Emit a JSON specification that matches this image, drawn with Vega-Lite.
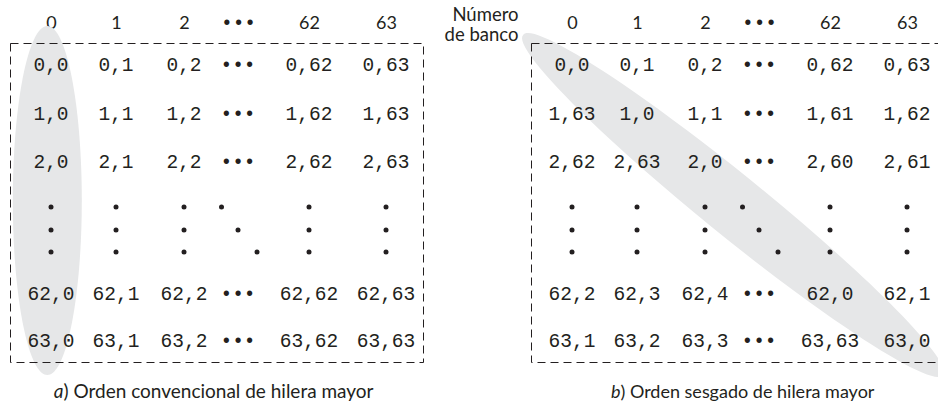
{
  "$schema": "https://vega.github.io/schema/vega-lite/v6.json",
  "width": 938,
  "height": 405,
  "autosize": {"type": "none"},
  "padding": 0,
  "background": "white",
  "config": {"view": {"stroke": null}},
  "datasets": {
    "celdas_a": [
      {"hilera": 0, "banco": 0, "elemento": "0,0"}, {"hilera": 0, "banco": 1, "elemento": "0,1"}, {"hilera": 0, "banco": 2, "elemento": "0,2"}, {"hilera": 0, "banco": 32, "elemento": "•••"}, {"hilera": 0, "banco": 62, "elemento": "0,62"}, {"hilera": 0, "banco": 63, "elemento": "0,63"},
      {"hilera": 1, "banco": 0, "elemento": "1,0"}, {"hilera": 1, "banco": 1, "elemento": "1,1"}, {"hilera": 1, "banco": 2, "elemento": "1,2"}, {"hilera": 1, "banco": 32, "elemento": "•••"}, {"hilera": 1, "banco": 62, "elemento": "1,62"}, {"hilera": 1, "banco": 63, "elemento": "1,63"},
      {"hilera": 2, "banco": 0, "elemento": "2,0"}, {"hilera": 2, "banco": 1, "elemento": "2,1"}, {"hilera": 2, "banco": 2, "elemento": "2,2"}, {"hilera": 2, "banco": 32, "elemento": "•••"}, {"hilera": 2, "banco": 62, "elemento": "2,62"}, {"hilera": 2, "banco": 63, "elemento": "2,63"},
      {"hilera": 62, "banco": 0, "elemento": "62,0"}, {"hilera": 62, "banco": 1, "elemento": "62,1"}, {"hilera": 62, "banco": 2, "elemento": "62,2"}, {"hilera": 62, "banco": 32, "elemento": "•••"}, {"hilera": 62, "banco": 62, "elemento": "62,62"}, {"hilera": 62, "banco": 63, "elemento": "62,63"},
      {"hilera": 63, "banco": 0, "elemento": "63,0"}, {"hilera": 63, "banco": 1, "elemento": "63,1"}, {"hilera": 63, "banco": 2, "elemento": "63,2"}, {"hilera": 63, "banco": 32, "elemento": "•••"}, {"hilera": 63, "banco": 62, "elemento": "63,62"}, {"hilera": 63, "banco": 63, "elemento": "63,63"}
    ],
    "celdas_b": [
      {"hilera": 0, "banco": 0, "elemento": "0,0"}, {"hilera": 0, "banco": 1, "elemento": "0,1"}, {"hilera": 0, "banco": 2, "elemento": "0,2"}, {"hilera": 0, "banco": 32, "elemento": "•••"}, {"hilera": 0, "banco": 62, "elemento": "0,62"}, {"hilera": 0, "banco": 63, "elemento": "0,63"},
      {"hilera": 1, "banco": 0, "elemento": "1,63"}, {"hilera": 1, "banco": 1, "elemento": "1,0"}, {"hilera": 1, "banco": 2, "elemento": "1,1"}, {"hilera": 1, "banco": 32, "elemento": "•••"}, {"hilera": 1, "banco": 62, "elemento": "1,61"}, {"hilera": 1, "banco": 63, "elemento": "1,62"},
      {"hilera": 2, "banco": 0, "elemento": "2,62"}, {"hilera": 2, "banco": 1, "elemento": "2,63"}, {"hilera": 2, "banco": 2, "elemento": "2,0"}, {"hilera": 2, "banco": 32, "elemento": "•••"}, {"hilera": 2, "banco": 62, "elemento": "2,60"}, {"hilera": 2, "banco": 63, "elemento": "2,61"},
      {"hilera": 62, "banco": 0, "elemento": "62,2"}, {"hilera": 62, "banco": 1, "elemento": "62,3"}, {"hilera": 62, "banco": 2, "elemento": "62,4"}, {"hilera": 62, "banco": 32, "elemento": "•••"}, {"hilera": 62, "banco": 62, "elemento": "62,0"}, {"hilera": 62, "banco": 63, "elemento": "62,1"},
      {"hilera": 63, "banco": 0, "elemento": "63,1"}, {"hilera": 63, "banco": 1, "elemento": "63,2"}, {"hilera": 63, "banco": 2, "elemento": "63,3"}, {"hilera": 63, "banco": 32, "elemento": "•••"}, {"hilera": 63, "banco": 62, "elemento": "63,63"}, {"hilera": 63, "banco": 63, "elemento": "63,0"}
    ],
    "puntos": [
      {"hilera": 3, "banco": 0}, {"hilera": 32, "banco": 0}, {"hilera": 61, "banco": 0},
      {"hilera": 3, "banco": 1}, {"hilera": 32, "banco": 1}, {"hilera": 61, "banco": 1},
      {"hilera": 3, "banco": 2}, {"hilera": 32, "banco": 2}, {"hilera": 61, "banco": 2},
      {"hilera": 3, "banco": 62}, {"hilera": 32, "banco": 62}, {"hilera": 61, "banco": 62},
      {"hilera": 3, "banco": 63}, {"hilera": 32, "banco": 63}, {"hilera": 61, "banco": 63},
      {"hilera": 3, "banco": 3}, {"hilera": 32, "banco": 32}, {"hilera": 61, "banco": 61}
    ],
    "marco": [{"banco": -0.5, "banco_fin": 63.5, "hilera": -0.5, "hilera_fin": 63.5}],
    "elipse": [{"banco": 0, "hilera": 0}],
    "leyenda_a": [{"banco": -0.5, "hilera": 63.5, "letra": "a", "texto": ") Orden convencional de hilera mayor"}],
    "leyenda_b": [{"banco": -0.5, "hilera": 63.5, "letra": "b", "texto": ") Orden sesgado de hilera mayor"}]
  },
  "resolve": {"scale": {"x": "independent"}, "axis": {"x": "independent"}},
  "layer": [
    {
      "encoding": {
        "x": {"field": "banco", "type": "quantitative",
          "scale": {"type": "linear", "domain": [-0.5, 0, 1, 2, 3, 32, 61, 62, 63, 63.5], "range": [10.5, 51, 116, 184, 221.5, 238, 257, 309, 386, 423.5], "nice": false, "zero": false},
          "axis": {"orient": "top", "offset": -43, "values": [0, 1, 2, 32, 62, 63], "labelExpr": "datum.value == 32 ? '•••' : datum.label", "ticks": false, "tickSize": 0, "domain": false, "grid": false, "title": null,
            "labelFont": {"condition": {"test": "datum.value == 32", "value": "Liberation Mono"}, "value": "Lato"},
            "labelFontSize": {"condition": {"test": "datum.value == 32", "value": 19.5}, "value": 18},
            "labelPadding": 11, "labelBaseline": "bottom", "labelColor": "#231f20", "labelAngle": 0, "labelOverlap": false, "labelFlush": false}},
        "y": {"field": "hilera", "type": "quantitative",
          "scale": {"type": "linear", "domain": [-0.5, 0, 1, 2, 3, 32, 61, 62, 63, 63.5], "range": [43.5, 65, 113.5, 162, 207, 230, 252, 294, 341, 362.5], "nice": false, "zero": false},
          "axis": null}
      },
      "layer": [
        {"data": {"name": "elipse"}, "mark": {"type": "point", "shape": "M -38.2 135.5 A 34.5 174.5 0 1 1 30.8 135.5 A 34.5 174.5 0 1 1 -38.2 135.5 Z", "size": 4, "filled": true, "color": "#e6e7e8", "opacity": 1, "strokeWidth": 0}},
        {"data": {"name": "marco"}, "mark": {"type": "rect", "fill": "transparent", "stroke": "#231f20", "strokeWidth": 1, "strokeDash": [8, 5]},
          "encoding": {"x2": {"field": "banco_fin"}, "y2": {"field": "hilera_fin"}}},
        {"data": {"name": "celdas_a"}, "mark": {"type": "text", "font": "Liberation Mono", "fontSize": 19.5, "align": "center", "baseline": "middle", "color": "#231f20"},
          "encoding": {"text": {"field": "elemento"}}},
        {"data": {"name": "puntos"}, "mark": {"type": "point", "shape": "circle", "size": 25, "filled": true, "color": "#231f20", "opacity": 1}},
        {"data": {"name": "leyenda_a"}, "mark": {"type": "text", "font": "Lato", "fontSize": 19, "fontStyle": "italic", "align": "right", "baseline": "bottom", "dx": 53, "dy": 39.5, "color": "#231f20"},
          "encoding": {"text": {"field": "letra"}}},
        {"data": {"name": "leyenda_a"}, "mark": {"type": "text", "font": "Lato", "fontSize": 19, "align": "left", "baseline": "bottom", "dx": 53, "dy": 39.5, "color": "#231f20"},
          "encoding": {"text": {"field": "texto"}}}
      ]
    },
    {
      "encoding": {
        "x": {"field": "banco", "type": "quantitative",
          "scale": {"type": "linear", "domain": [-0.5, 0, 1, 2, 3, 32, 61, 62, 63, 63.5], "range": [531.5, 572, 637, 705, 742.5, 759, 778, 830, 907, 944.5], "nice": false, "zero": false},
          "axis": {"orient": "top", "offset": -43, "values": [0, 1, 2, 32, 62, 63], "labelExpr": "datum.value == 32 ? '•••' : datum.label", "ticks": false, "tickSize": 0, "domain": false, "grid": false,
            "title": ["Número", "de banco"], "titleFont": "Lato", "titleFontSize": 18.5, "titleFontWeight": "normal", "titleColor": "#231f20", "titleAlign": "right", "titleBaseline": "bottom", "titleAngle": 0, "titleX": 518, "titleY": -18.5, "titleLineHeight": 20,
            "labelFont": {"condition": {"test": "datum.value == 32", "value": "Liberation Mono"}, "value": "Lato"},
            "labelFontSize": {"condition": {"test": "datum.value == 32", "value": 19.5}, "value": 18},
            "labelPadding": 11, "labelBaseline": "bottom", "labelColor": "#231f20", "labelAngle": 0, "labelOverlap": false, "labelFlush": false}},
        "y": {"field": "hilera", "type": "quantitative",
          "scale": {"type": "linear", "domain": [-0.5, 0, 1, 2, 3, 32, 61, 62, 63, 63.5], "range": [43.5, 65, 113.5, 162, 207, 230, 252, 294, 341, 362.5], "nice": false, "zero": false},
          "axis": null}
      },
      "layer": [
        {"data": {"name": "elipse"}, "mark": {"type": "point", "shape": "M -48.8 -29.9 A 270 30 39 1 1 370.8 309.9 A 270 30 39 1 1 -48.8 -29.9 Z", "size": 4, "filled": true, "color": "#e6e7e8", "opacity": 1, "strokeWidth": 0}},
        {"data": {"name": "marco"}, "mark": {"type": "rect", "fill": "transparent", "stroke": "#231f20", "strokeWidth": 1, "strokeDash": [8, 5]},
          "encoding": {"x2": {"field": "banco_fin"}, "y2": {"field": "hilera_fin"}}},
        {"data": {"name": "celdas_b"}, "mark": {"type": "text", "font": "Liberation Mono", "fontSize": 19.5, "align": "center", "baseline": "middle", "color": "#231f20"},
          "encoding": {"text": {"field": "elemento"}}},
        {"data": {"name": "puntos"}, "mark": {"type": "point", "shape": "circle", "size": 25, "filled": true, "color": "#231f20", "opacity": 1}},
        {"data": {"name": "leyenda_b"}, "mark": {"type": "text", "font": "Lato", "fontSize": 18, "fontStyle": "italic", "align": "right", "baseline": "bottom", "dx": 89, "dy": 39.5, "color": "#231f20"},
          "encoding": {"text": {"field": "letra"}}},
        {"data": {"name": "leyenda_b"}, "mark": {"type": "text", "font": "Lato", "fontSize": 18, "align": "left", "baseline": "bottom", "dx": 89, "dy": 39.5, "color": "#231f20"},
          "encoding": {"text": {"field": "texto"}}}
      ]
    }
  ]
}
